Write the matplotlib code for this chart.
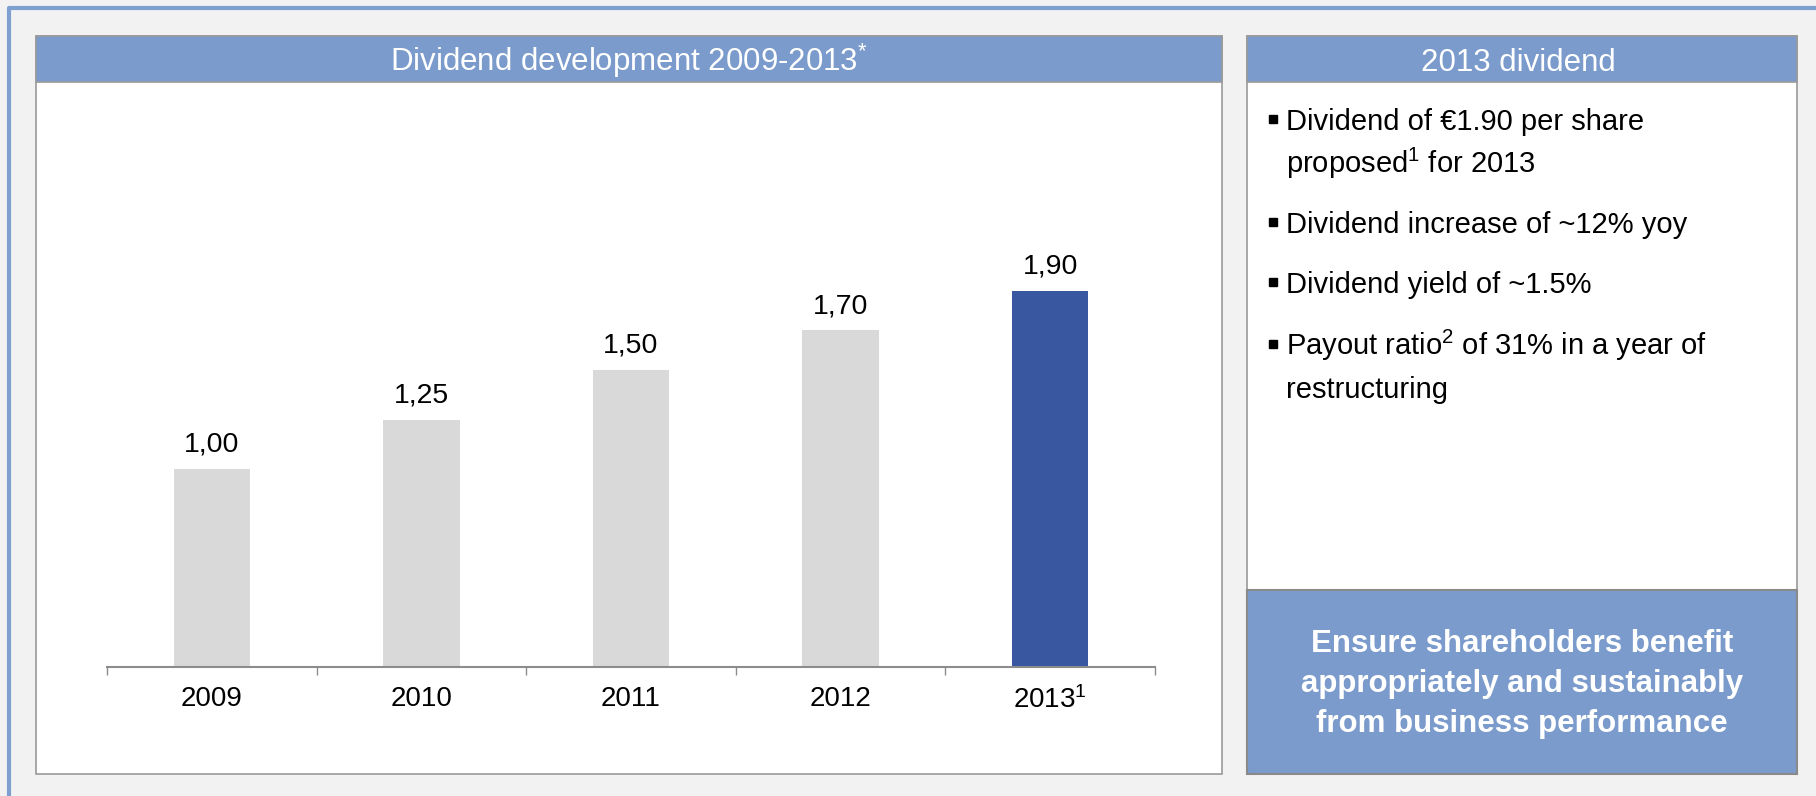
import numpy as np
import matplotlib
matplotlib.use("Agg")
import matplotlib.pyplot as plt
from matplotlib.patches import Rectangle

# chart data
years = ['2009', '2010', '2011', '2012', '2013$^{1}$']
dividends = [1.00, 1.25, 1.50, 1.70, 1.90]
value_labels = ['1,00', '1,25', '1,50', '1,70', '1,90']
bar_colors = ['#d9d9d9', '#d9d9d9', '#d9d9d9', '#d9d9d9', '#3857a0']

chart_title = 'Dividend development 2009-2013$^{*}$'
side_title = '2013 dividend'
bullets = [
    ['Dividend of €1.90 per share', 'proposed$^{1}$ for 2013'],
    ['Dividend increase of ~12% yoy'],
    ['Dividend yield of ~1.5%'],
    ['Payout ratio$^{2}$ of 31% in a year of', 'restructuring'],
]
message = ['Ensure shareholders benefit',
           'appropriately and sustainably',
           'from business performance']

plt.rcParams['font.family'] = ['Liberation Sans', 'DejaVu Sans']
plt.rcParams['mathtext.fontset'] = 'custom'
plt.rcParams['mathtext.rm'] = 'Liberation Sans'
plt.rcParams['mathtext.it'] = 'Liberation Sans:italic'
plt.rcParams['mathtext.bf'] = 'Liberation Sans:bold'
plt.rcParams['mathtext.default'] = 'regular'

W, H = 1816, 796
head_blue = '#7a9bcb'
edge_grey = '#9a9a9a'

fig = plt.figure(figsize=(W / 100, H / 100), dpi=100, facecolor='#f2f2f2')

# background layer in pixel coordinates
bg = fig.add_axes([0, 0, 1, 1])
bg.set_xlim(0, W)
bg.set_ylim(H, 0)
bg.axis('off')

# outer frame line
bg.plot([9, 9, W], [H, 8, 8], color='#7f9fd1', lw=3, solid_capstyle='butt')

# left panel
bg.add_patch(Rectangle((36, 36), 1186, 738, facecolor='white', edgecolor=edge_grey, lw=1.2))
bg.add_patch(Rectangle((36, 36), 1186, 46, facecolor=head_blue, edgecolor=edge_grey, lw=1.2))
bg.text(629, 71, chart_title, color='white', fontsize=22.5, ha='center', va='baseline')

# right panel
bg.add_patch(Rectangle((1247, 36), 550, 738, facecolor='white', edgecolor=edge_grey, lw=1.2))
bg.add_patch(Rectangle((1247, 36), 550, 46, facecolor=head_blue, edgecolor=edge_grey, lw=1.2))
bg.add_patch(Rectangle((1247, 590), 550, 184, facecolor=head_blue, edgecolor='#8a8a8a', lw=1.5))
bg.text(1518, 71, side_title, color='white', fontsize=22.5, ha='center', va='baseline')

# bullet list
starts = [130, 233, 293, 355]
for lines, y0 in zip(bullets, starts):
    bg.plot(1273, y0 - 11, marker='s', ms=5.8, color='black')
    for k, line in enumerate(lines):
        bg.text(1286, y0 + 43 * k, line, fontsize=21, color='black', va='baseline')

for k, line in enumerate(message):
    bg.text(1522, 652 + 40 * k, line, fontsize=22.5, fontweight='bold',
            color='white', ha='center', va='baseline')

# bar chart
base_px, top_px = 667, 100
px_per_unit = 198
ax = fig.add_axes([107 / W, (H - base_px) / H, 1048 / W, (base_px - top_px) / H])
ax.patch.set_visible(False)
x = np.arange(len(years))
ax.bar(x, dividends, width=0.365, color=bar_colors)
ax.set_xlim(-0.5, len(years) - 0.5)
ax.set_ylim(0, (base_px - top_px) / px_per_unit)
for i, (v, lab) in enumerate(zip(dividends, value_labels)):
    ax.annotate(lab, (i, v), xytext=(0, 12.5), textcoords='offset points',
                ha='center', va='baseline', fontsize=20.5, color='black')

for s in ['top', 'left', 'right']:
    ax.spines[s].set_visible(False)
ax.spines['bottom'].set_color('#8c8c8c')
ax.spines['bottom'].set_linewidth(1.5)
ax.set_yticks([])
ax.set_xticks(x)
ax.set_xticklabels(years, fontsize=20)
ax.set_xticks(np.arange(-0.5, len(years), 1), minor=True)
ax.tick_params(axis='x', which='major', length=0, pad=14)
ax.tick_params(axis='x', which='minor', length=6, width=1, color='#8c8c8c')

fig.savefig('out.png', dpi=100, facecolor=fig.get_facecolor())
